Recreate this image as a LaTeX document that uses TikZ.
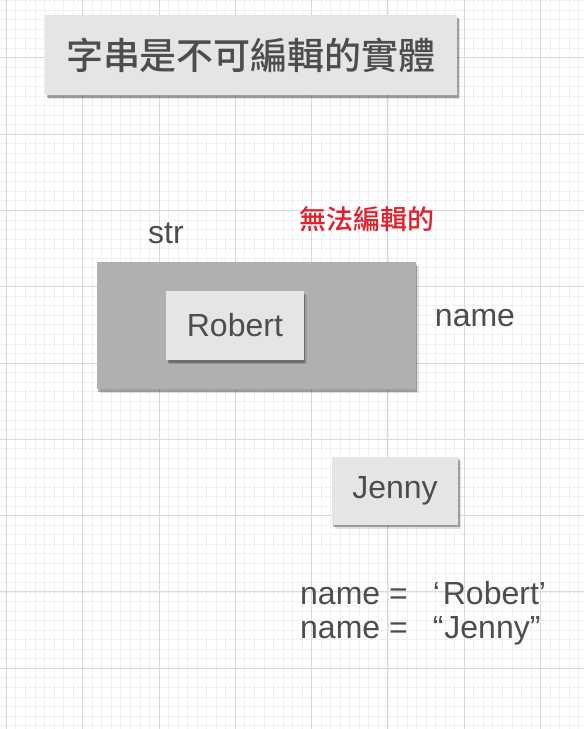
\documentclass[tikz,border=0pt]{standalone}
\usepackage{fontspec}
\setmainfont{Liberation Sans}
\newfontfamily\cjk{Noto Sans CJK TC Medium}
\usetikzlibrary{shadows}
\definecolor{gminor}{HTML}{F0F0F0}
\definecolor{gmajor}{HTML}{D9D9D9}
\definecolor{boxlight}{HTML}{E5E5E5}
\definecolor{boxdark}{HTML}{B0B0B0}
\definecolor{txt}{HTML}{4D4D4D}
\definecolor{redtxt}{HTML}{E41E2B}
\tikzset{
  minorline/.style={gminor, line width=0.7pt},
  majorline/.style={gmajor, line width=0.8pt},
  sh/.style={drop shadow={shadow xshift=1.5pt,shadow yshift=-2.5pt,fill=black,opacity=.28},
             drop shadow={shadow xshift=3pt,shadow yshift=-4pt,fill=black,opacity=.12}},
  lightbox/.style={sh, fill=boxlight, draw=none, inner sep=0pt, text=txt},
  darkbox/.style={sh, fill=boxdark, draw=none, inner sep=0pt},
  big/.style={font=\fontsize{32}{38}\selectfont, text=txt},
}
\begin{document}
\begin{tikzpicture}[x=1pt,y=-1pt]
\fill[white] (0,0) rectangle (584,729);
\useasboundingbox (0,0) rectangle (584,729);
% grid
\foreach \i in {0,...,60} \draw[minorline] ({6.3+9.54*\i},0) -- ++(0,729);
\foreach \i in {0,...,76} \draw[minorline] (0,{0.46+9.54*\i}) -- ++(584,0);
\foreach \i in {0,...,7} \draw[majorline] ({6.3+76.3*\i},0) -- ++(0,729);
\foreach \i in {0,...,8} \draw[majorline] (0,{57.7+76.3*\i}) -- ++(584,0);
% title
\node[lightbox, minimum width=412pt, minimum height=80pt,
      font=\cjk\fontsize{37}{42}\selectfont] (title) at (251,55) {字串是不可編輯的實體};
% red label
\node[text=redtxt, font=\cjk\fontsize{27}{32}\selectfont, inner sep=0pt] (ne) at (367,219) {無法編輯的};
% str label
\node[big, inner sep=0pt, anchor=base west] (str) at (148,243.3) {str};
% dark box
\node[darkbox, minimum width=319.3pt, minimum height=127.3pt] (obj) at (256.3,325.7) {};
\node[lightbox, big, minimum width=137.7pt, minimum height=69pt] (robert) at (234.9,325.5) {Robert};
\node[big, inner sep=0pt] (name) at (475,318) {name};
\node[lightbox, big, minimum width=126.6pt, minimum height=68.3pt] (jenny) at (395,490.8) {Jenny};
% code lines
\node[big, inner sep=0pt, anchor=base west] (l1) at (300,604.3) {name =\hspace{25pt}‘\hspace{3pt}Robert’};
\node[big, inner sep=0pt, anchor=base west] (l2) at (300,638.3) {name =\hspace{25pt}“\hspace{1pt}Jenny”};
\end{tikzpicture}
\end{document}
